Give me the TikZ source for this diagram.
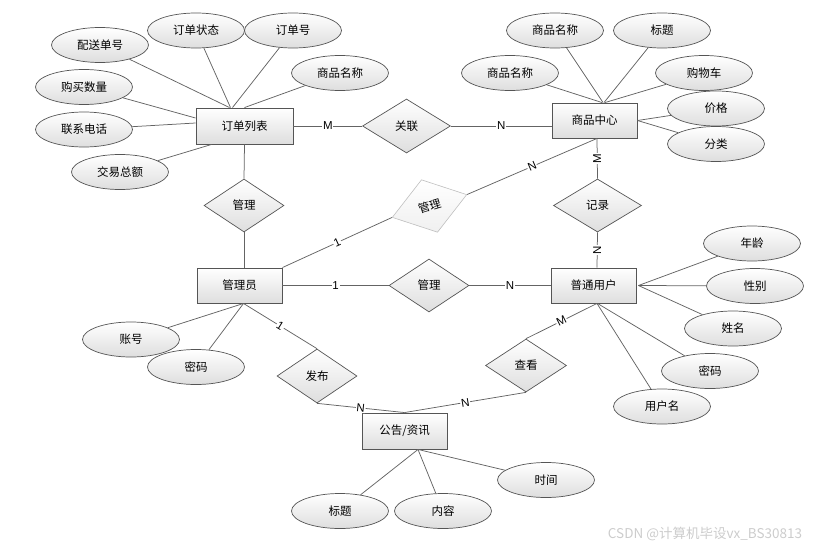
\documentclass[tikz,border=0pt]{standalone}
\usepackage{fontspec}
\setmainfont{Liberation Sans}
\newfontfamily\cjk{Noto Sans CJK SC}
\usetikzlibrary{shapes.geometric}
\definecolor{lc}{RGB}{100,100,100}
\definecolor{bc}{RGB}{85,85,85}
\definecolor{gb}{RGB}{222,222,222}
\begin{document}
\begin{tikzpicture}[x=1pt,y=-1pt,
 cfont/.style={font=\cjk\fontsize{11.5}{13}\selectfont},
 ent/.style={cfont, draw=bc, line width=0.9pt, rectangle, top color=white, bottom color=gb, minimum width=85pt, minimum height=35pt, inner sep=0pt},
 attr/.style={cfont, draw=bc, line width=0.7pt, ellipse, top color=white, bottom color=gb, minimum width=97pt, minimum height=35pt, inner sep=0pt},
 rel/.style={cfont, draw=bc, line width=0.7pt, diamond, aspect=1.5, top color=white, bottom color=gb, minimum width=80pt, minimum height=53pt, inner sep=0pt},
 relfaint/.style={cfont, draw=gray!50, line width=0.6pt, diamond, aspect=1.5, top color=white, bottom color=gray!12, minimum width=78pt, minimum height=55pt, inner sep=0pt},
 conn/.style={draw=lc, line width=0.75pt},
 card/.style={fill=white, inner sep=0.8pt, font=\fontsize{11.5}{13}\selectfont, text=black},
 wm/.style={font=\cjk\fontsize{13.5}{15}\selectfont, text=gray!40}
]
\useasboundingbox (0,0) rectangle (832,549);

% entities
\node[ent, minimum width=97pt, minimum height=36pt] (A) at (244.5,126) {订单列表};
\node[ent] (B) at (594.5,120.5) {商品中心};
\node[ent] (C) at (239.5,285.5) {管理员};
\node[ent] (D) at (593.5,285.5) {普通用户};
\node[ent, minimum height=36pt] (E) at (404.5,431) {公告/资讯};

% relationships
\node[rel, minimum width=88pt, minimum height=54pt] (R1) at (406.5,126) {关联};
\node[rel] (R2) at (244,205.5) {管理};
\node[relfaint, rotate=17] (R3) at (429.5,206) {管理};
\node[rel, minimum width=88pt] (R4) at (597.5,205.5) {记录};
\node[rel] (R5) at (429,285.5) {管理};
\node[rel, minimum width=80pt, minimum height=54pt] (R6) at (317,376) {发布};
\node[rel, minimum width=81pt] (R7) at (526,365.5) {查看};

% attributes of A
\node[attr] (a1) at (100,45) {配送单号};
\node[attr] (a2) at (196,30.5) {订单状态};
\node[attr] (a3) at (293,30.5) {订单号};
\node[attr] (a4) at (340,73) {商品名称};
\node[attr] (a5) at (84,87) {购买数量};
\node[attr] (a6) at (84,129.5) {联系电话};
\node[attr] (a7) at (120,172) {交易总额};
% attributes of B
\node[attr] (b1) at (555,30.5) {商品名称};
\node[attr] (b2) at (662,30.5) {标题};
\node[attr] (b3) at (510,73) {商品名称};
\node[attr] (b4) at (704,73) {购物车};
\node[attr] (b5) at (716,108.5) {价格};
\node[attr] (b6) at (716,144) {分类};
% attributes of C
\node[attr] (c1) at (131,339.5) {账号};
\node[attr] (c2) at (196,367) {密码};
% attributes of D
\node[attr] (d1) at (752,243.5) {年龄};
\node[attr] (d2) at (755,286) {性别};
\node[attr] (d3) at (733,328.5) {姓名};
\node[attr] (d4) at (710,371) {密码};
\node[attr] (d5) at (662,406.5) {用户名};
% attributes of E
\node[attr] (e1) at (340,511) {标题};
\node[attr] (e2) at (443,511) {内容};
\node[attr] (e3) at (546,480) {时间};

% attribute connectors
\draw[conn] (a1) -- ([xshift=-15pt]A.north);
\draw[conn] (a2) -- ([xshift=-14pt]A.north);
\draw[conn] (a3) -- ([xshift=-12pt]A.north);
\draw[conn] (a4) -- (A.north);
\draw[conn] (a5) -- ([yshift=8pt]A.west);
\draw[conn] (a6) -- ([yshift=3pt]A.west);
\draw[conn] (a7) -- ([xshift=16pt]A.south west);

\draw[conn] (b1) -- ([xshift=8.5pt]B.north);
\draw[conn] (b2) -- ([xshift=9.5pt]B.north);
\draw[conn] (b3) -- ([xshift=7.5pt]B.north);
\draw[conn] (b4) -- ([xshift=10.5pt]B.north);
\draw[conn] (b5) -- (B.east);
\draw[conn] (b6) -- (B.east);

\draw[conn] (c1) -- ([xshift=4pt]C.south);
\draw[conn] (c2) -- ([xshift=4pt]C.south);

\draw[conn] (d1) -- ([xshift=2pt]D.east);
\draw[conn] (d2) -- ([xshift=2pt]D.east);
\draw[conn] (d3) -- ([xshift=2pt]D.east);
\draw[conn] (d4) -- ([xshift=4pt]D.south);
\draw[conn] (d5) -- ([xshift=3.5pt]D.south);

\draw[conn] (e1) -- ([xshift=13.5pt]E.south);
\draw[conn] (e2) -- ([xshift=13.5pt]E.south);
\draw[conn] (e3) -- ([xshift=13.5pt]E.south);

% relationship connectors
\draw[conn] (A.east) -- node[card, midway] {M} (R1.west);
\draw[conn] (R1.east) -- node[card, midway] {N} ([yshift=-5.5pt]B.west);
\draw[conn] (A.south) -- (R2.north);
\draw[conn] (R2.south) -- ([xshift=4.5pt]C.north);
\draw[conn] (C.north east) -- node[card, midway, sloped] {1} (R3.west);
\draw[conn] (R3.east) -- node[card, midway, sloped] {N} ([xshift=2.5pt]B.south);
\draw[conn] ([xshift=2.5pt]B.south) -- node[card, midway, rotate=90] {M} (R4.north);
\draw[conn] (R4.south) -- node[card, midway, rotate=90] {N} ([xshift=3.5pt]D.north);
\draw[conn] (C.east) -- node[card, midway] {1} (R5.west);
\draw[conn] (R5.east) -- node[card, midway] {N} (D.west);
\draw[conn] ([xshift=4pt]C.south) -- node[card, midway, sloped] {1} (R6.north);
\draw[conn] (R6.south) -- node[card, midway, sloped] {N} (E.north);
\draw[conn] (R7.south) -- node[card, midway, sloped] {N} (E.north);
\draw[conn] (R7.north) -- node[card, midway, sloped] {M} ([xshift=3.5pt]D.south);

% watermark
\node[wm] (wmark) at (705,534) {CSDN @计算机毕设vx\_BS30813};
\end{tikzpicture}
\end{document}
